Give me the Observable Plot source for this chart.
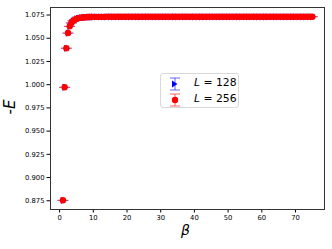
<!DOCTYPE html>
<html><head><meta charset="utf-8">
<script src="https://cdn.jsdelivr.net/npm/d3@7"></script>
<script src="https://cdn.jsdelivr.net/npm/@observablehq/plot@0.6"></script>
<style>
body{margin:0;background:#fff;}
#wrap{position:relative;width:332px;height:249px;font-family:"DejaVu Sans",sans-serif;}
.lab{position:absolute;color:#000;white-space:nowrap;}
#legend{position:absolute;left:160px;top:73px;width:79px;height:35px;border:1px solid #d9d9d9;border-radius:3px;background:#fff;box-sizing:border-box;font-size:10.8px;}
</style></head>
<body><div id="wrap"></div>
<script>
const betas = [1,1.5,2,2.5,3,3.5,4,4.5,5,5.5,6,6.5,7,7.5,8,8.5,9,9.5,10,
  11,12,13,14,15,16,17,18,19,20,21,22,23,24,25,26,27,28,29,30,
  31,32,33,34,35,36,37,38,39,40,41,42,43,44,45,46,47,48,49,50,
  51,52,53,54,55,56,57,58,59,60,61,62,63,64,65,66,67,68,69,70,
  71,72,73,74,75];
const negE256 = [0.8755,0.9972,1.0393,1.0556,1.0628,1.0665,1.0687,1.0700,1.0709,1.0715,1.0719,1.0722,1.0724,1.0726,1.0727,1.0728,1.0729,1.0729,1.0730,
  1.0730,1.0730,1.0730,1.0731,1.0731,1.0731,1.0731,1.0731,1.0731,1.0731,1.0731,1.0731,1.0731,1.0731,1.0731,1.0731,1.0731,1.0731,1.0731,1.0731,
  1.0732,1.0732,1.0732,1.0732,1.0732,1.0732,1.0732,1.0732,1.0732,1.0732,1.0732,1.0732,1.0732,1.0732,1.0732,1.0732,1.0732,1.0732,1.0732,1.0732,
  1.0732,1.0732,1.0732,1.0732,1.0732,1.0732,1.0732,1.0732,1.0732,1.0732,1.0732,1.0732,1.0732,1.0732,1.0732,1.0732,1.0732,1.0732,1.0732,1.0732,
  1.0732,1.0732,1.0732,1.0732,1.0732];
const negE128 = [0.8754,0.9971,1.0392,1.0555,1.0627,1.0664,1.0686,1.0699,1.0708,1.0714,1.0718,1.0721,1.0723,1.0725,1.0726,1.0727,1.0728,1.0728,1.0729,
  1.0729,1.0729,1.0729,1.0730,1.0730,1.0730,1.0730,1.0730,1.0730,1.0730,1.0730,1.0730,1.0730,1.0730,1.0730,1.0730,1.0730,1.0730,1.0730,1.0730,
  1.0730,1.0730,1.0730,1.0730,1.0730,1.0730,1.0730,1.0730,1.0730,1.0730,1.0730,1.0730,1.0730,1.0730,1.0730,1.0730,1.0730,1.0730,1.0730,1.0730,
  1.0731,1.0731,1.0731,1.0731,1.0731,1.0731,1.0731,1.0731,1.0731,1.0731,1.0731,1.0731,1.0731,1.0731,1.0731,1.0731,1.0731,1.0731,1.0731,1.0731,
  1.0731,1.0731,1.0731,1.0731,1.0731];
const seriesNames = ["L = 128", "L = 256"];
const xTicks = [0,10,20,30,40,50,60,70];
const yTicks = [0.875,0.900,0.925,0.950,0.975,1.000,1.025,1.050,1.075];

const d128 = betas.map((b,i)=>({beta:b, e:negE128[i]}));
const d256 = betas.map((b,i)=>({beta:b, e:negE256[i]}));

const capSym = {draw(c, size){ const w = 5.5; c.moveTo(-w,0); c.lineTo(w,0); }};
const triRight = {draw(c, size){ const s = 3.6; c.moveTo(s,0); c.lineTo(-s*0.6,-s); c.lineTo(-s*0.6,s); c.closePath(); }};

const chart = Plot.plot({
  width: 332, height: 249,
  marginLeft: 50, marginRight: 8, marginTop: 7, marginBottom: 40,
  style: {fontFamily: "DejaVu Sans", fontSize: "6.8px", color: "#000", background: "#fff"},
  x: {domain: [-2.7, 78.6], ticks: xTicks, tickSize: 3.5, tickPadding: 2.5, label: null},
  y: {domain: [0.8656, 1.0831], ticks: yTicks, tickFormat: d3.format(".3f"), tickSize: 3.5, tickPadding: 2.5, label: null},
  marks: [
    Plot.dot(d128, {x:"beta", y:"e", symbol: capSym, r: 3, stroke: "#0000ff", strokeOpacity: 0.5, strokeWidth: 1}),
    Plot.dot(d128, {x:"beta", y:"e", symbol: triRight, r: 3, fill: "#0000ff", stroke: "none"}),
    Plot.dot(d256, {x:"beta", y:"e", symbol: capSym, r: 3, stroke: "#ff0000", strokeOpacity: 0.5, strokeWidth: 1}),
    Plot.dot(d256, {x:"beta", y:"e", r: 3.2, fill: "#ff0000", stroke: "none"}),
    Plot.frame({stroke: "#333", strokeWidth: 1})
  ]
});
const wrap = document.getElementById("wrap");
wrap.appendChild(chart);

function addLabel(html, css){ const d = document.createElement("div"); d.className="lab"; d.innerHTML = html; Object.assign(d.style, css); wrap.appendChild(d); }
addLabel("<i>β</i>", {left:"181px", top:"222px", fontSize:"14px"});
addLabel("-<i>E</i>", {left:"3px", top:"98px", fontSize:"15px", transform:"rotate(-90deg)", transformOrigin:"center"});

const lg = document.createElement("div"); lg.id = "legend";
const cols = ["#0000ff", "#ff0000"];
lg.innerHTML = seriesNames.map((n,i)=>{
  const sym = i===0 ? '<path d="M11.5,9 L6,5.5 L6,12.5 Z" fill="#0000ff"/>' : '<circle cx="9" cy="9" r="3.2" fill="#ff0000"/>';
  const nm = n.replace("L", "<i>L</i>");
  return `<div style="position:absolute;left:0;top:${2+i*16}px;height:16px;width:76px;">
    <svg width="18" height="18" style="position:absolute;left:5px;top:-1px;">
      <g stroke="${cols[i]}" stroke-opacity="0.6" stroke-width="1"><line x1="9" y1="3" x2="9" y2="15"/><line x1="4" y1="3" x2="14" y2="3"/><line x1="4" y1="15" x2="14" y2="15"/></g>${sym}
    </svg>
    <span style="position:absolute;left:33px;top:0px;">${nm}</span></div>`;
}).join("");
wrap.appendChild(lg);
</script></body></html>
